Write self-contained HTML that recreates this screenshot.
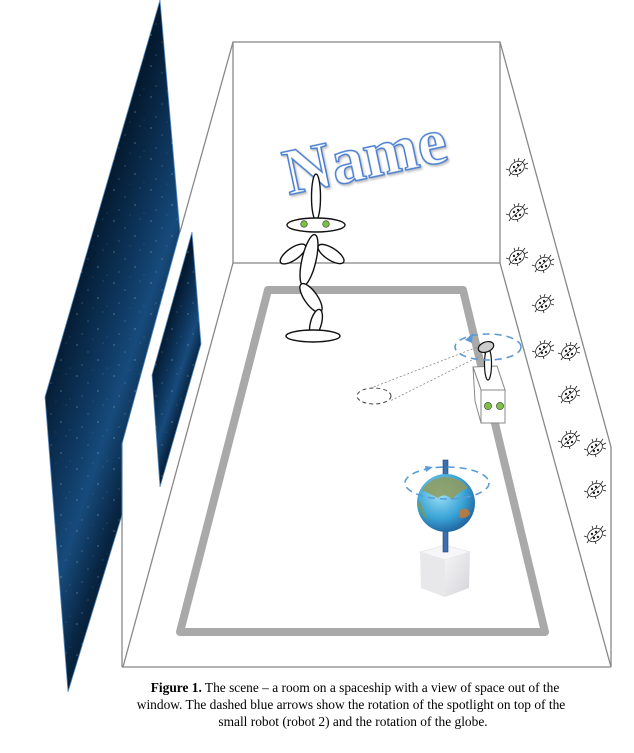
<!DOCTYPE html>
<html><head><meta charset="utf-8"><style>
html,body{margin:0;padding:0;background:#fff;width:634px;height:753px;overflow:hidden}
svg{display:block}
</style></head><body>
<svg width="634" height="753" viewBox="0 0 634 753" xmlns="http://www.w3.org/2000/svg">
<defs>
<linearGradient id="sky" x1="0" y1="0" x2="0.6" y2="1">
<stop offset="0" stop-color="#010810"/><stop offset="0.4" stop-color="#041a30"/><stop offset="0.58" stop-color="#0f3a64"/><stop offset="0.66" stop-color="#174b7c"/><stop offset="0.78" stop-color="#082440"/><stop offset="1" stop-color="#020a14"/>
</linearGradient>
<pattern id="stars" width="37" height="31" patternUnits="userSpaceOnUse">
<circle cx="3" cy="4" r="0.5" fill="#cfe"/><circle cx="14" cy="11" r="0.4" fill="#fff"/><circle cx="29" cy="2" r="0.35" fill="#bde"/><circle cx="8" cy="24" r="0.4" fill="#fff"/><circle cx="24" cy="19" r="0.5" fill="#dff"/><circle cx="33" cy="27" r="0.3" fill="#fff"/><circle cx="19" cy="29" r="0.3" fill="#cde"/>
</pattern>
<radialGradient id="earth" cx="0.4" cy="0.35" r="0.7">
<stop offset="0" stop-color="#9be0f5"/><stop offset="0.6" stop-color="#3aa3d6"/><stop offset="1" stop-color="#1d5e9a"/>
</radialGradient>
<linearGradient id="cube" x1="0" y1="0" x2="1" y2="1"><stop offset="0" stop-color="#f4f4f6"/><stop offset="1" stop-color="#d6d4d8"/></linearGradient>
<g id="bug" fill="none" stroke="#222" stroke-width="0.8">
<ellipse cx="0" cy="0" rx="8" ry="6" transform="rotate(-35)" fill="#fff"/>
<line x1="-5" y1="4.5" x2="5" y2="-4.5"/>
<circle cx="-3" cy="-1" r="0.8" fill="#222"/><circle cx="1" cy="-3" r="0.8" fill="#222"/><circle cx="3" cy="2" r="0.8" fill="#222"/><circle cx="-1" cy="3" r="0.8" fill="#222"/>
<path d="M5 -5 L8 -9 M7 -3 L11 -5 M8 0 L11 1 M-2 -6 L-3 -9 M1 -7 L2 -10 M-8 2 L-11 1 M-6 5 L-8 8 M0 6 L1 9"/>
</g>
</defs>

<g fill="none" stroke="#888" stroke-width="1.3">
<rect x="233" y="42" width="267" height="221"/>
<line x1="233" y1="42" x2="180" y2="232"/>
<line x1="233" y1="263" x2="123" y2="667"/>
<line x1="122" y1="444" x2="122" y2="667"/>
<line x1="122" y1="667" x2="611" y2="667"/>
<line x1="500" y1="42" x2="611" y2="447"/>
<line x1="611" y1="447" x2="611" y2="667"/>
<line x1="500" y1="263" x2="611" y2="667"/>
</g>

<polygon points="160,0 180,232 122,444 122,515 68,692 45,397" fill="url(#sky)" stroke="#5b8fc4" stroke-width="0.8"/>
<polygon points="160,0 180,232 122,444 122,515 68,692 45,397" fill="url(#stars)" opacity="0.8"/>
<polygon points="192,232 201,344 160,487 152,375" fill="url(#sky)" stroke="#5b8fc4" stroke-width="0.8"/>
<polygon points="192,232 201,344 160,487 152,375" fill="url(#stars)" opacity="0.8"/>

<polygon points="268,290 463,290 545,632 180,632" fill="none" stroke="#a9a9a9" stroke-width="8" stroke-linejoin="round"/>

<text x="367" y="178" text-anchor="middle" transform="rotate(-12 367 166)" font-family="Liberation Serif, serif" font-weight="bold" font-size="66" fill="#fff" stroke="#4a7fd0" stroke-width="1.5" style="filter:drop-shadow(1px 2px 1px rgba(0,0,0,0.25))">Name</text>

<use href="#bug" x="517" y="168"/><use href="#bug" x="517" y="213"/><use href="#bug" x="517" y="257"/>
<use href="#bug" x="543" y="264"/><use href="#bug" x="543" y="304"/><use href="#bug" x="543" y="350"/>
<use href="#bug" x="569" y="352"/><use href="#bug" x="569" y="395"/><use href="#bug" x="569" y="440"/>
<use href="#bug" x="595" y="448"/><use href="#bug" x="595" y="490"/><use href="#bug" x="595" y="535"/>

<g fill="#fff" stroke="#111" stroke-width="1.4">
<ellipse cx="316" cy="197" rx="4.5" ry="23"/>
<ellipse cx="293" cy="254" rx="15" ry="6" transform="rotate(-35 293 254)"/>
<ellipse cx="331" cy="254" rx="15" ry="6" transform="rotate(33 331 254)"/>
<ellipse cx="309" cy="260" rx="7" ry="26" transform="rotate(13 309 260)"/>
<ellipse cx="311" cy="298" rx="6.5" ry="17" transform="rotate(-35 311 298)"/>
<ellipse cx="316" cy="323" rx="5.5" ry="14" transform="rotate(15 316 323)"/>
<ellipse cx="313" cy="336" rx="27" ry="6"/>
<ellipse cx="316" cy="225" rx="29" ry="7"/>
</g>
<circle cx="304" cy="224" r="3.3" fill="#7cc242" stroke="#333" stroke-width="0.6"/>
<circle cx="326" cy="224" r="3.3" fill="#7cc242" stroke="#333" stroke-width="0.6"/>

<line x1="480" y1="346" x2="371" y2="388" stroke="#888" stroke-width="0.8" stroke-dasharray="2,2"/>
<line x1="486" y1="353" x2="390" y2="401" stroke="#888" stroke-width="0.8" stroke-dasharray="2,2"/>
<ellipse cx="374" cy="396" rx="17" ry="8" fill="none" stroke="#444" stroke-width="1" stroke-dasharray="4,3"/>
<g stroke="#888" stroke-width="1" fill="#fff">
<polygon points="473,367 497,366 505,390 481,390"/>
<polygon points="473,367 481,390 481,423 475,401"/>
<rect x="481" y="390" width="24" height="33"/>
</g>
<circle cx="488" cy="406" r="3.6" fill="#7cc242" stroke="#333" stroke-width="0.6"/>
<circle cx="500" cy="406" r="3.6" fill="#7cc242" stroke="#333" stroke-width="0.6"/>
<ellipse cx="488" cy="364" rx="3.5" ry="16" fill="#fff" stroke="#111" stroke-width="1.2"/>
<ellipse cx="486" cy="347" rx="8" ry="5" fill="#ccc" stroke="#111" stroke-width="1.2" transform="rotate(-20 486 347)"/>
<ellipse cx="488" cy="347" rx="33" ry="13" fill="none" stroke="#5b9bd5" stroke-width="1.6" stroke-dasharray="7,5"/>
<polygon points="465,340 473,333 472,343" fill="#5b9bd5"/>

<polygon points="420,552 445,545 470,552 445,560" fill="#f6f6f8" stroke="#ddd" stroke-width="0.6"/>
<polygon points="420,552 445,560 445,597 421,588" fill="#e8e7ea"/>
<polygon points="445,560 470,552 469,588 445,597" fill="url(#cube)"/>
<rect x="443" y="460" width="5" height="92" fill="#3a6fb0" stroke="#1f3f6a" stroke-width="0.6"/>
<circle cx="446" cy="503" r="29" fill="url(#earth)"/>
<path d="M422 490 Q430 478 445 477 Q462 478 468 488 Q458 492 452 500 Q446 492 438 498 Q430 494 422 490Z" fill="#8f9a5a" opacity="0.85"/>
<path d="M460 510 Q468 506 470 514 Q465 520 459 517Z" fill="#c07a3a" opacity="0.9"/>
<path d="M420 500 Q424 512 428 520 Q421 515 418 505Z" fill="#7a9a55" opacity="0.8"/>
<ellipse cx="447" cy="483" rx="42" ry="16" fill="none" stroke="#5b9bd5" stroke-width="1.6" stroke-dasharray="7,5"/>
<polygon points="425,466 433,467 426,472" fill="#5b9bd5"/>

<g font-family="Liberation Serif, serif" font-size="13.4" fill="#000" text-anchor="middle">
<text x="355" y="692"><tspan font-weight="bold">Figure 1.</tspan> The scene – a room on a spaceship with a view of space out of the</text>
<text x="351" y="709">window. The dashed blue arrows show the rotation of the spotlight on top of the</text>
<text x="353" y="726">small robot (robot 2) and the rotation of the globe.</text>
</g>
</svg>
</body></html>
